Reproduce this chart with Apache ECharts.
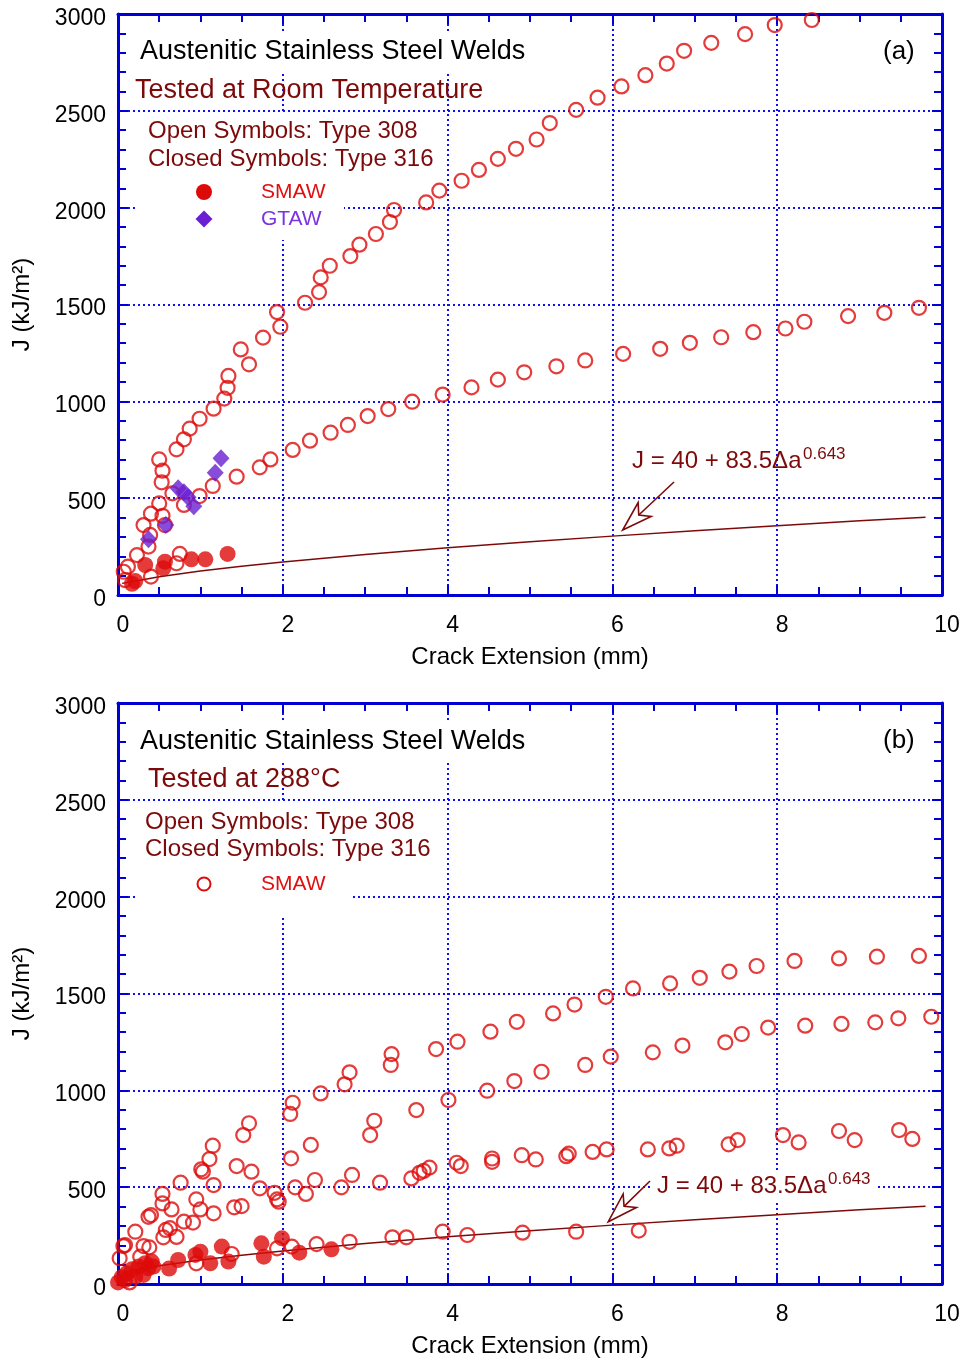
<!DOCTYPE html>
<html>
<head>
<meta charset="utf-8">
<script src="https://cdn.jsdelivr.net/npm/echarts@6/dist/echarts.min.js"></script>
<style>
html,body{margin:0;padding:0;background:#fff;}
#chart{width:965px;height:1360px;}
</style>
</head>
<body>
<div id="chart"></div>
<script>
// ---------- Data ----------
const xTicks = [0, 2, 4, 6, 8, 10];
const yTicks = [0, 500, 1000, 1500, 2000, 2500, 3000];

// Panel (a): room temperature
const a308Upper = [
  [0.07,120],[0.12,146],[0.23,206],[0.31,361],[0.40,420],[0.50,473],[0.53,582],[0.54,642],[0.50,700],
  [0.71,752],[0.80,804],[0.87,859],[0.99,910],[1.16,962],[1.29,1014],[1.33,1070],[1.34,1131],[1.49,1268],
  [1.59,1191],[1.76,1329],[1.97,1385],[1.93,1461],[2.27,1509],[2.44,1564],[2.46,1640],[2.57,1700],
  [2.82,1750],[2.93,1809],[3.13,1864],[3.30,1926],[3.35,1988],[3.74,2027],[3.90,2088],[4.17,2139],
  [4.38,2195],[4.61,2252],[4.83,2304],[5.08,2352],[5.24,2437],[5.56,2505],[5.82,2568],[6.11,2626],
  [6.40,2684],[6.66,2744],[6.87,2810],[7.20,2851],[7.61,2896],[7.97,2943],[8.42,2969]
];
const a308Lower = [
  [0.085,77],[0.37,250],[0.39,310],[0.57,361],[0.54,409],[0.40,95],[0.71,164],[0.75,212],[0.66,525],
  [0.80,465],[0.99,511],[1.15,563],[1.44,611],[1.72,659],[1.85,700],[2.12,749],[2.33,797],[2.58,838],
  [2.79,878],[3.03,924],[3.28,960],[3.57,998],[3.94,1035],[4.29,1072],[4.61,1112],[4.93,1150],
  [5.32,1181],[5.67,1211],[6.13,1245],[6.58,1271],[6.94,1302],[7.32,1331],[7.71,1357],[8.10,1376],
  [8.33,1411],[8.86,1440],[9.30,1457],[9.72,1483]
];
const a316Smaw = [[0.17,58],[0.21,72],[0.33,155],[0.55,138],[0.57,172],[0.89,184],[1.06,184],[1.33,212]];
const a316Gtaw = [[0.37,288],[0.58,361],[0.73,551],[0.80,530],[0.85,505],[0.92,458],[1.18,631],[1.25,706]];

// Panel (b): 288 C
const b308S1 = [
  [0.02,133],[0.085,201],[0.21,270],[0.37,347],[0.54,416],[0.54,465],[0.76,523],[1.01,592],[1.11,645],
  [1.15,714],[1.52,769],[1.59,830],[2.09,878],[2.12,936],[2.46,984],[2.75,1031],[2.81,1093],[3.31,1131],
  [3.32,1187],[3.86,1213],[4.12,1251],[4.52,1303],[4.84,1354],[5.28,1397],[5.54,1443],[5.92,1483],
  [6.25,1526],[6.70,1552],[7.06,1581],[7.42,1613],[7.75,1642],[8.21,1668],[8.75,1681],[9.21,1690],[9.72,1694]
];
const b308S2 = [
  [0.065,196],[0.40,356],[0.58,279],[0.65,385],[0.95,437],[1.03,580],[1.44,609],[1.62,580],[2.10,649],
  [2.34,718],[3.06,769],[3.11,843],[3.62,898],[4.01,950],[4.48,998],[4.81,1048],[5.14,1096],[5.67,1131],
  [5.98,1174],[6.49,1196],[6.85,1231],[7.37,1248],[7.57,1291],[7.89,1324],[8.34,1334],[8.78,1343],
  [9.19,1351],[9.47,1372],[9.87,1380]
];
const b308S3 = [
  [0.31,196],[0.38,189],[0.27,141],[0.55,241],[0.63,288],[0.71,243],[0.80,322],[0.91,317],[1.00,385],
  [1.16,365],[1.16,511],[1.41,396],[1.50,402],[1.72,494],[1.90,471],[1.93,437],[1.95,425],[2.15,499],
  [2.28,465],[2.39,537],[2.71,499],[2.84,563],[3.18,523],[3.56,545],[3.66,574],[3.71,584],[3.78,601],
  [4.11,626],[4.16,609],[4.54,648],[4.54,631],[4.90,665],[5.07,643],[5.44,660],[5.47,673],[5.76,682],
  [5.93,695],[6.43,695],[6.69,700],[6.78,714],[7.41,721],[7.52,743],[8.07,769],[8.26,731],[8.75,790],
  [8.94,743],[9.48,795],[9.64,749]
];
const b308S4 = [
  [0.14,8],[0.95,107],[1.38,155],[1.93,184],[2.11,193],[2.41,206],[2.81,218],[3.33,241],[3.50,241],
  [3.94,270],[4.24,253],[4.91,265],[5.56,270],[6.32,276]
];
const b316Smaw = [
  [0.00,8],[0.045,35],[0.085,20],[0.105,55],[0.17,76],[0.21,38],[0.25,90],[0.31,47],[0.33,107],[0.37,81],
  [0.41,116],[0.43,90],[0.62,80],[0.73,124],[0.94,150],[1.00,167],[1.12,107],[1.26,193],[1.34,116],
  [1.74,210],[1.77,141],[1.99,236],[2.20,162],[2.59,179]
];

// Fit curve J = 40 + 83.5 da^0.643
const fitLine = [
  [0.05,60],[0.25,75],[0.5,94],[1,124],[1.5,148],[2,170],[3,209],[4,244],[5,275],[6,304],[7,332],
  [8,358],[9,383],[9.8,402]
];

// ---------- Styling ----------
const FONT = '"Liberation Sans", Arial, sans-serif';
const BLUE = '#0000d4';
const GRIDBLUE = '#1010ee';
const RED = '#dd0a0a';
const MAROON = '#7d0a0a';
const PURPLE = '#6a1fd1';

const grids = [
  {left:118, right:23, top:14, height:581},
  {left:118, right:23, top:703, height:581}
];

function xMain(g){
  return {
    type:'value', gridIndex:g, position:'bottom', min:xTicks[0], max:xTicks[xTicks.length-1], interval:2,
    axisLine:{show:true, onZero:false, lineStyle:{color:BLUE, width:3}},
    axisTick:{show:true, inside:true, length:10, lineStyle:{color:BLUE, width:2}},
    minorTick:{show:true, splitNumber:4, length:8, lineStyle:{color:BLUE, width:2}},
    splitLine:{show:true, lineStyle:{color:GRIDBLUE, width:2, type:[2,3]}},
    axisLabel:{color:'#000', fontSize:23, fontFamily:FONT, margin:19, padding:[0,0,0,10],
      formatter:function(v){ return String(v); }},
    name:'Crack Extension (mm)', nameLocation:'middle', nameGap:50,
    nameTextStyle:{color:'#000', fontSize:24, fontFamily:FONT}
  };
}
function xTop(g){
  return {
    type:'value', gridIndex:g, position:'top', min:0, max:10, interval:2,
    axisLine:{show:true, onZero:false, lineStyle:{color:BLUE, width:3}},
    axisTick:{show:true, inside:true, length:10, lineStyle:{color:BLUE, width:2}},
    minorTick:{show:true, splitNumber:4, length:8, lineStyle:{color:BLUE, width:2}},
    splitLine:{show:false}, axisLabel:{show:false}
  };
}
function yMain(g){
  return {
    type:'value', gridIndex:g, position:'left', min:yTicks[0], max:yTicks[yTicks.length-1], interval:500,
    axisLine:{show:true, onZero:false, lineStyle:{color:BLUE, width:3}},
    axisTick:{show:true, inside:true, length:10, lineStyle:{color:BLUE, width:2}},
    minorTick:{show:true, splitNumber:5, length:8, lineStyle:{color:BLUE, width:2}},
    splitLine:{show:true, lineStyle:{color:GRIDBLUE, width:2, type:[2,3]}},
    axisLabel:{color:'#000', fontSize:23, fontFamily:FONT, margin:12,
      formatter:function(v){ return '{v|' + v + '}'; },
      rich:{v:{color:'#000', fontSize:23, fontFamily:FONT, padding:[9,0,0,0]}}},
    name:'J (kJ/m²)', nameLocation:'middle', nameGap:84,
    nameTextStyle:{color:'#000', fontSize:24, fontFamily:FONT}
  };
}
function yRight(g){
  return {
    type:'value', gridIndex:g, position:'right', min:0, max:3000, interval:500,
    axisLine:{show:true, onZero:false, lineStyle:{color:BLUE, width:3}},
    axisTick:{show:true, inside:true, length:10, lineStyle:{color:BLUE, width:2}},
    minorTick:{show:true, splitNumber:5, length:8, lineStyle:{color:BLUE, width:2}},
    splitLine:{show:false}, axisLabel:{show:false}
  };
}

function openSeries(data, xi, yi){
  return {type:'scatter', xAxisIndex:xi, yAxisIndex:yi, data:data, symbol:'circle', symbolSize:14,
    itemStyle:{color:'rgba(0,0,0,0)', borderColor:RED, borderWidth:2.2}, z:3, silent:true};
}
function closedSeries(data, xi, yi){
  return {type:'scatter', xAxisIndex:xi, yAxisIndex:yi, data:data, symbol:'circle', symbolSize:16,
    itemStyle:{color:RED}, z:4, silent:true};
}
function fitSeries(xi, yi){
  return {type:'line', xAxisIndex:xi, yAxisIndex:yi, data:fitLine, showSymbol:false, smooth:false,
    lineStyle:{color:MAROON, width:1.5}, z:2, silent:true};
}

function txt(x, y, s, size, color){
  return {type:'text', x:x, y:y, z:20,
    style:{text:s, fontSize:size, fontFamily:FONT, fill:color, verticalAlign:'middle', align:'left'}};
}
function whiteRect(x, y, w, h){
  return {type:'rect', z:1, shape:{x:x, y:y, width:w, height:h}, style:{fill:'#fff'}};
}
function arrow(tip, tail){
  const dx = tail[0]-tip[0], dy = tail[1]-tip[1];
  const L = Math.sqrt(dx*dx+dy*dy), ux = dx/L, uy = dy/L, px = -uy, py = ux;
  const hl = 30, hw = 9.5, notch = 22;
  const b = [tip[0]+ux*hl, tip[1]+uy*hl];
  const n = [tip[0]+ux*notch, tip[1]+uy*notch];
  return [
    {type:'polyline', z:15, shape:{points:[n, tail]}, style:{stroke:MAROON, lineWidth:1.6, fill:null}},
    {type:'polygon', z:16, shape:{points:[tip, [b[0]+px*hw, b[1]+py*hw], n, [b[0]-px*hw, b[1]-py*hw]]},
      style:{fill:'#fff', stroke:MAROON, lineWidth:1.6}}
  ];
}

const graphics = [
  // panel (a)
  whiteRect(135, 31, 395, 41),
  whiteRect(137, 113, 207, 127),
  txt(140, 52, 'Austenitic Stainless Steel Welds', 27, '#000'),
  txt(135, 91, 'Tested at Room Temperature', 27, MAROON),
  txt(148, 131, 'Open Symbols: Type 308', 24, MAROON),
  txt(148, 159, 'Closed Symbols: Type 316', 24, MAROON),
  {type:'circle', z:20, shape:{cx:204, cy:192, r:8}, style:{fill:RED}},
  txt(261, 192, 'SMAW', 21, '#e01010'),
  {type:'polygon', z:20, shape:{points:[[204,210.5],[212.5,219],[204,227.5],[195.5,219]]}, style:{fill:PURPLE}},
  txt(261, 219, 'GTAW', 21, '#7a35e0'),
  txt(883, 52, '(a)', 26, '#000'),
  txt(632, 461, 'J = 40 + 83.5\u0394a', 24, MAROON),
  txt(803, 454, '0.643', 17, MAROON),
  ...arrow([622.7, 530], [674, 482]),
  // panel (b)
  whiteRect(135, 720, 395, 42),
  whiteRect(137, 802, 213, 115),
  whiteRect(652, 1170, 226, 30),
  txt(140, 742, 'Austenitic Stainless Steel Welds', 27, '#000'),
  txt(148, 780, 'Tested at 288°C', 27, MAROON),
  txt(145, 822, 'Open Symbols: Type 308', 24, MAROON),
  txt(145, 849, 'Closed Symbols: Type 316', 24, MAROON),
  {type:'circle', z:20, shape:{cx:204, cy:884, r:6.5}, style:{fill:'#fff', stroke:RED, lineWidth:2}},
  txt(261, 884, 'SMAW', 21, '#e01010'),
  txt(883, 741, '(b)', 26, '#000'),
  txt(657, 1186, 'J = 40 + 83.5\u0394a', 24, MAROON),
  txt(828, 1179, '0.643', 17, MAROON),
  ...arrow([608.3, 1221.7], [650, 1181])
];

const chart = echarts.init(document.getElementById('chart'), null, {renderer:'canvas'});
chart.setOption({
  backgroundColor:'#fff',
  animation:false,
  grid:grids,
  xAxis:[xMain(0), xTop(0), xMain(1), xTop(1)],
  yAxis:[yMain(0), yRight(0), yMain(1), yRight(1)],
  series:[
    fitSeries(0,0),
    openSeries(a308Upper,0,0),
    openSeries(a308Lower,0,0),
    closedSeries(a316Smaw,0,0),
    {type:'scatter', xAxisIndex:0, yAxisIndex:0, data:a316Gtaw, symbol:'diamond', symbolSize:[17,18],
      itemStyle:{color:PURPLE}, z:5, silent:true},
    fitSeries(2,2),
    openSeries(b308S1,2,2),
    openSeries(b308S2,2,2),
    openSeries(b308S3,2,2),
    openSeries(b308S4,2,2),
    closedSeries(b316Smaw,2,2)
  ],
  graphic:graphics
});
</script>
</body>
</html>
